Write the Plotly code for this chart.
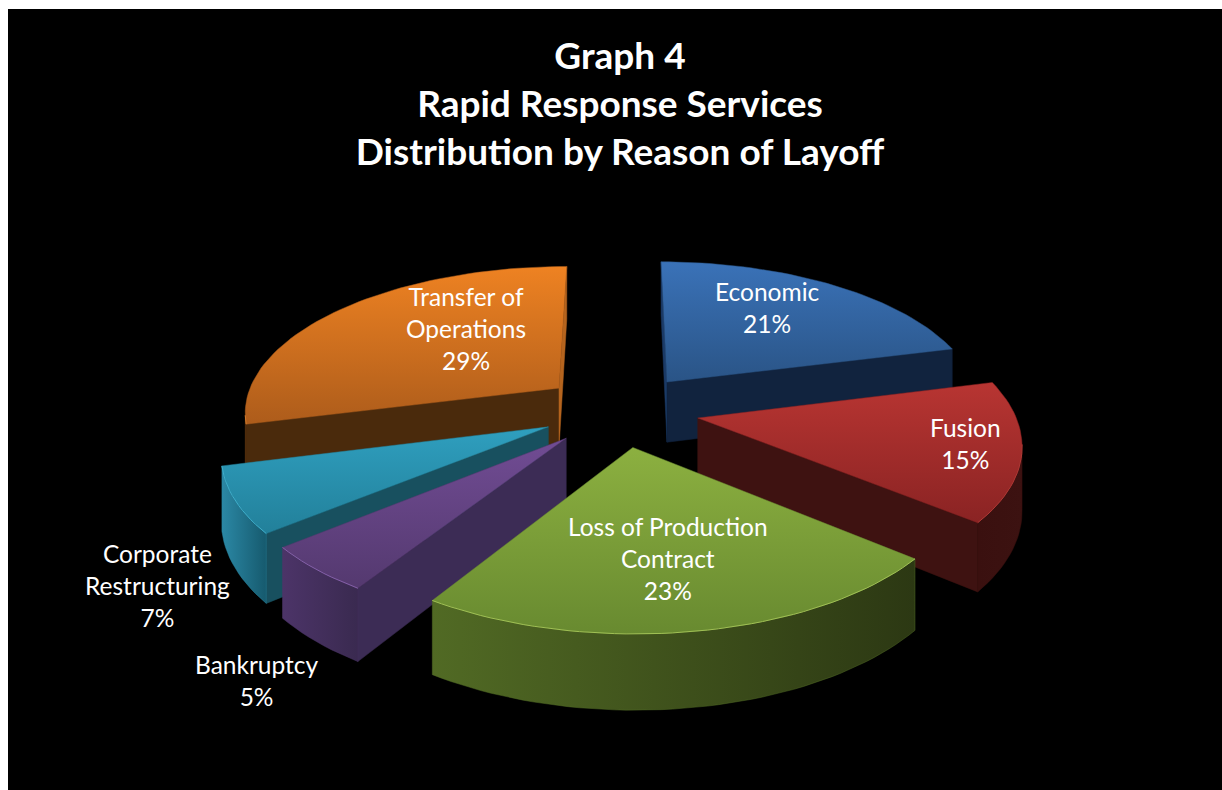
import math
import plotly.graph_objects as go

# ---- data ----
TITLE_LINES = ["Graph 4", "Rapid Response Services", "Distribution by Reason of Layoff"]
CATEGORIES = ["Economic", "Fusion", "Loss of Production<br>Contract", "Bankruptcy",
              "Corporate<br>Restructuring", "Transfer of<br>Operations"]
VALUES = [21, 15, 23, 5, 7, 29]

# ---- styling ----
TOP_LIGHT = ["#3A72B8", "#B83532", "#8CB040", "#714C94", "#2F9FBF", "#EE8222"]
TOP_DARK = ["#2A5486", "#8A2323", "#688A30", "#54396F", "#22809A", "#AD5C1B"]
FIRST_CUT = ["#1B3A66", "#3E1211", "#3A4A18", "#3C2C55", "#18505F", "#4A2A0C"]
LAST_CUT = ["#11233E", "#3E1211", "#3A4A18", "#3C2C55", "#18505F", "#B5641E"]
ARC_L = ["#16305A", "#3A100F", "#516A24", "#4C3468", "#2B88A5", "#5A330F"]
ARC_R = ["#10213A", "#3C1211", "#2C3813", "#3A2A50", "#165A6E", "#4A2A0C"]
RIM = ["#3F76BC", "#B03A36", "#A0C055", "#8460A8", "#3FAFCC", "#D0782A"]
LABEL_XY = [(767, 307), (965, 443), (668, 558), (257, 680), (157, 585), (466, 328)]
PAINT_ORDER = [5, 0, 4, 1, 3, 2]

# projection of the tilted pie onto the page
CX, CY, RX, RY, PERSP, DEPTH, EXPLODE = 620, 410, 316, 146, 0.15, 62, 0.25
FONT = "Lato"


def project(x, y, drop=0.0):
    s = 1 / (1 + PERSP * y)
    return CX + RX * x * s, CY - RY * y * s + drop * s


def slice_outline(start, end):
    mid = (start + end) / 2
    ax, ay = EXPLODE * math.sin(mid), EXPLODE * math.cos(mid)
    n = max(8, int((end - start) / 0.03))
    pts = [(ax, ay)]
    for i in range(n + 1):
        t = start + (end - start) * i / n
        pts.append((ax + math.sin(t), ay + math.cos(t)))
    return pts


def area(poly):
    return sum(poly[i][0] * poly[(i + 1) % len(poly)][1] - poly[(i + 1) % len(poly)][0] * poly[i][1]
               for i in range(len(poly))) / 2


def add_poly(fig, poly, colors, kind):
    xs = [p[0] for p in poly] + [poly[0][0]]
    ys = [p[1] for p in poly] + [poly[0][1]]
    fig.add_trace(go.Scatter(
        x=xs, y=ys, mode="lines", fill="toself",
        line=dict(width=0.5, color=colors[0]),
        fillgradient=dict(type=kind, colorscale=[[0, colors[0]], [1, colors[1]]]),
        hoverinfo="skip", showlegend=False))


fig = go.Figure()
total = sum(VALUES)
spans = []
acc = 0.0
for v in VALUES:
    spans.append((acc / total * 2 * math.pi, (acc + v) / total * 2 * math.pi))
    acc += v

for idx in PAINT_ORDER:
    pts = slice_outline(*spans[idx])
    top = [project(*p) for p in pts]
    low = [project(*p, DEPTH) for p in pts]
    m = len(pts)
    # cut faces
    for i, col in ((0, FIRST_CUT[idx]), (m - 1, LAST_CUT[idx])):
        j = (i + 1) % m
        quad = [top[i], top[j], low[j], low[i]]
        if area(quad) < 0:
            add_poly(fig, quad, (col, col), "horizontal")
    # rounded outer wall: the run of edges that face the viewer
    run = [i for i in range(1, m - 1) if area([top[i], top[i + 1], low[i + 1], low[i]]) < 0]
    if run:
        a, b = run[0], run[-1] + 1
        poly = sorted(top[a:b + 1], key=lambda p: p[0]) + sorted(low[a:b + 1], key=lambda p: -p[0])
        add_poly(fig, poly, (ARC_L[idx], ARC_R[idx]), "horizontal")
    add_poly(fig, top, (TOP_DARK[idx], TOP_LIGHT[idx]), "vertical")
    if run:
        rim = top[a:b + 1]
        fig.add_trace(go.Scatter(x=[p[0] for p in rim], y=[p[1] for p in rim], mode="lines",
                                 line=dict(width=1, color=RIM[idx]), hoverinfo="skip", showlegend=False))

for name, v, (lx, ly) in zip(CATEGORIES, VALUES, LABEL_XY):
    fig.add_annotation(x=lx, y=ly, text=f"{name}<br>{v}%", showarrow=False,
                       font=dict(family=FONT, size=24.5, color="white"), align="center")

fig.update_layout(
    width=1222, height=790, margin=dict(l=8, r=0, t=9, b=0),
    paper_bgcolor="white", plot_bgcolor="black", showlegend=False,
    title=dict(text="<b>" + "<br>".join(TITLE_LINES) + "</b>",
               font=dict(family=FONT, size=37, color="white"),
               x=620 / 1222, xanchor="center", y=1 - 69 / 790, yanchor="top"),
    xaxis=dict(range=[8, 1222], visible=False, fixedrange=True),
    yaxis=dict(range=[790, 9], visible=False, fixedrange=True),
)
fig.write_html("out.html", config=dict(displayModeBar=False),
               post_script="document.body.style.margin='0';document.body.style.overflow='hidden';")
